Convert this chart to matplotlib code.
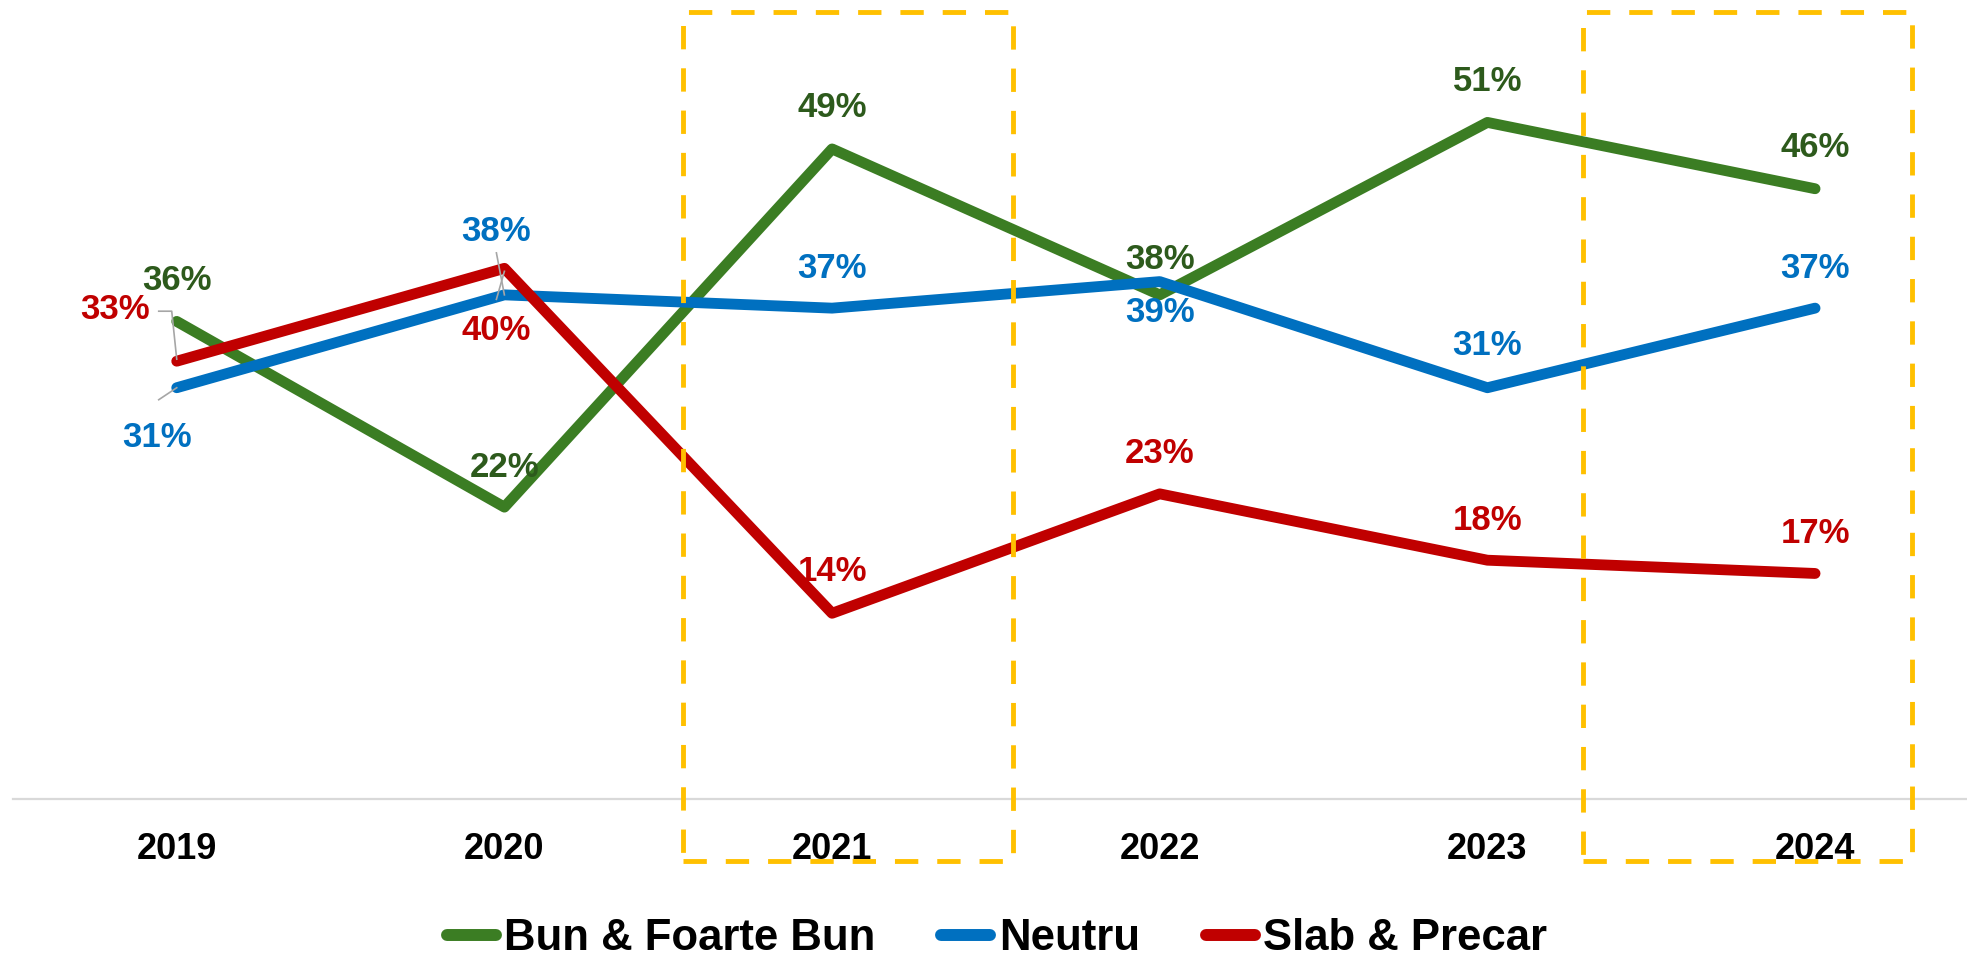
import matplotlib
matplotlib.use("Agg")
import matplotlib.pyplot as plt
from matplotlib.patches import Rectangle
from matplotlib.lines import Line2D

# ---------------- data ----------------
years = ["2019", "2020", "2021", "2022", "2023", "2024"]
bun = [36, 22, 49, 38, 51, 46]
neutru = [31, 38, 37, 39, 31, 37]
slab = [33, 40, 14, 23, 18, 17]
series_names = ["Bun & Foarte Bun", "Neutru", "Slab & Precar"]
highlight_years = ["2021", "2024"]

# ---------------- style ----------------
W, H, DPI = 1967, 960, 100
line_colors = ["#3B7D23", "#0070C0", "#C00000"]
text_colors = ["#2D5A1C", "#0070C0", "#C00000"]
FONT = "Liberation Sans"

# label offsets in image pixels (dx right, dy down) relative to the point
offsets = [
    [(0, -41), (0, -40), (0, -41), (0, -35), (0, -41), (0, -41)],
    [(-20, 50), (-8, -63), (0, -40), (0, 31), (0, -42), (0, -40)],
    [(-62, -52), (-8, 62), (0, -42), (0, -40), (0, -40), (0, -40)],
]

fig = plt.figure(figsize=(W / DPI, H / DPI), dpi=DPI)
ax = fig.add_axes([12.9 / W, 161 / H, 1966 / W, 796 / H])
ax.set_xlim(-0.5, len(years) - 0.5)
ax.set_ylim(0, 60)

x = list(range(len(years)))
all_series = [bun, neutru, slab]
for vals, c in zip(all_series, line_colors):
    ax.plot(x, vals, color=c, lw=7.8, solid_capstyle="round",
            solid_joinstyle="round", zorder=3)

for s, (vals, tc) in enumerate(zip(all_series, text_colors)):
    for i, v in enumerate(vals):
        dx, dy = offsets[s][i]
        ax.annotate(f"{v}%", xy=(i, v), xytext=(dx, -dy),
                    textcoords="offset pixels", ha="center", va="center",
                    fontsize=25, fontweight="bold", color=tc,
                    fontfamily=FONT, zorder=5)

# leader lines (pixel offsets from the point, dy down)
def leader(i, v, pts):
    px, py = ax.transData.transform((i, v))
    xs = [px + p[0] for p in pts]
    ys = [py - p[1] for p in pts]
    fig.add_artist(Line2D(xs, ys, transform=None, color="#A6A6A6",
                          lw=1.2, zorder=6))

leader(0, slab[0], [(-18, -50), (-5, -50), (0, -2)])
leader(0, neutru[0], [(-18, 12), (0, 0)])
leader(1, neutru[1], [(-8, -42), (0, 0)])
leader(1, slab[1], [(0, 3), (-8, 31)])

# dashed highlight boxes
for yr, (left, right) in zip(highlight_years, [(-0.455, 0.552), (-0.709, 0.295)]):
    i = years.index(yr)
    ax.add_patch(Rectangle((i + left, -4.67), right - left, 63.97,
                           fill=False, edgecolor="#FFC000", lw=3.5,
                           linestyle=(0, (4.8, 3.9)), clip_on=False,
                           zorder=4))

# axes styling
for sp in ["top", "right", "left"]:
    ax.spines[sp].set_visible(False)
ax.spines["bottom"].set_color("#D9D9D9")
ax.spines["bottom"].set_linewidth(1.6)
ax.set_yticks([])
ax.set_xticks(x)
ax.set_xticklabels(years, fontsize=26, fontweight="bold", fontfamily=FONT)
ax.tick_params(axis="x", length=0, pad=24)

handles = [Line2D([0], [0], color=c, lw=8.6, solid_capstyle="round")
           for c in line_colors]
fig.legend(handles, series_names, loc="center",
           bbox_to_anchor=(997 / W, 1 - 939 / H), ncol=3, frameon=False,
           prop={"family": FONT, "weight": "bold", "size": 31.5},
           handlelength=1.12, handletextpad=0.2, columnspacing=1.5,
           borderpad=0, borderaxespad=0)

fig.savefig("out.png", dpi=DPI)
